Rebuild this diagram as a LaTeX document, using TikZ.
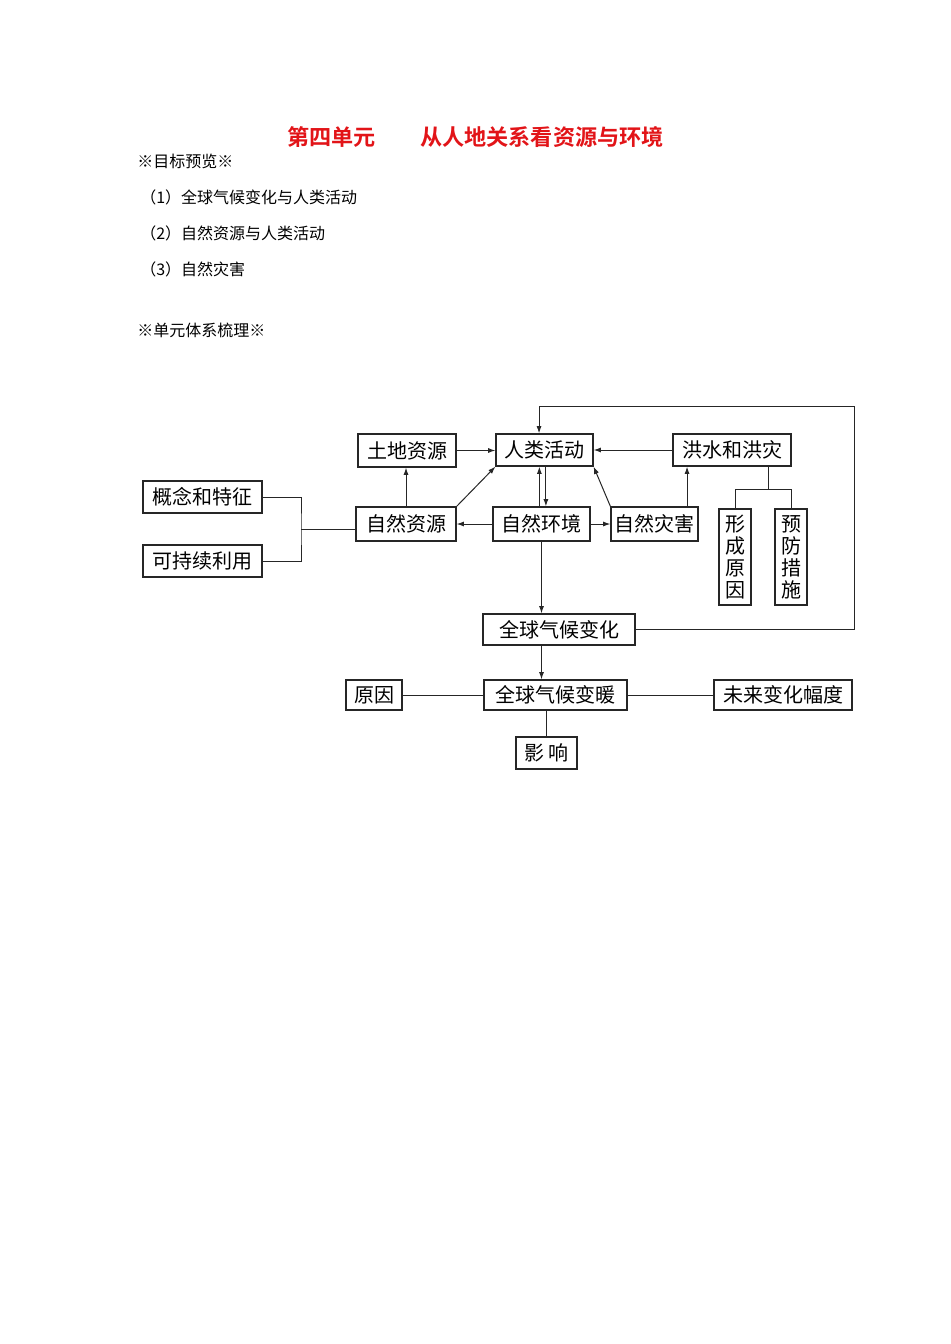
\documentclass[tikz,border=0pt]{standalone}
\usepackage{fontspec}
\setmainfont{Noto Sans CJK SC}[BoldFont={Noto Sans CJK SC Bold}]
\usepackage{xcolor}
\usepackage{tikz}
\usetikzlibrary{arrows.meta,positioning,calc}
\definecolor{titlered}{RGB}{226,20,24}

\begin{document}
\begin{tikzpicture}[
    x=0.75pt,y=-0.75pt,
    box/.style={draw=black!85, line width=0.9pt, inner sep=0pt, minimum height=24pt, font=\fontsize{15}{18}\selectfont, align=center},
    vbox/.style={box, minimum width=24pt, minimum height=72pt, font=\fontsize{15}{16.5}\selectfont},
    line/.style={draw=black!85, line width=0.75pt},
    arr/.style={line, -{Latex[length=5.5pt,width=3.8pt]}},
    txt/.style={anchor=west, inner sep=0pt, font=\fontsize{12}{14}\selectfont},
    head/.style={anchor=west, inner sep=0pt, text=titlered, font=\fontsize{16.6}{19}\selectfont\bfseries}
  ]
    \useasboundingbox (0,0) rectangle (950,1344);

    % heading and outline
    \node[head] (t1) at (287,137) {第四单元};
    \node[head] (t2) at (420,137) {从人地关系看资源与环境};
    \node[txt] (p0) at (137,161) {※目标预览※};
    \node[txt] (p1) at (140,197) {（1）全球气候变化与人类活动};
    \node[txt] (p2) at (140,233) {（2）自然资源与人类活动};
    \node[txt] (p3) at (140,269) {（3）自然灾害};
    \node[txt] (p4) at (137,330) {※单元体系梳理※};

    % boxes
    \node[box, minimum width=73.5pt, minimum height=24.75pt] (tudi) at (407,450.5) {土地资源};
    \node[box, minimum width=72.75pt] (renlei) at (544.5,450) {人类活动};
    \node[box, minimum width=88.5pt] (hongshui) at (732,450) {洪水和洪灾};
    \node[box, minimum width=89.25pt] (gainian) at (202.5,497) {概念和特征};
    \node[box, minimum width=89.25pt] (kechixu) at (202.5,561) {可持续利用};
    \node[box, minimum width=75pt, minimum height=25.5pt] (ziyuan) at (406,524) {自然资源};
    \node[box, minimum width=72.75pt, minimum height=25.5pt] (huanjing) at (541.5,524) {自然环境};
    \node[box, minimum width=65.25pt, minimum height=25.5pt] (zaihai) at (654.5,524) {自然灾害};
    \node[vbox] (chengyin) at (735,557) {形\\成\\原\\因};
    \node[vbox] (cuoshi) at (791,557) {预\\防\\措\\施};
    \node[box, minimum width=114pt, minimum height=23.25pt] (bianhua) at (559,629.5) {全球气候变化};
    \node[box, minimum width=107.25pt, minimum height=22.5pt] (biannuan) at (555.5,695) {全球气候变暖};
    \node[box, minimum width=42pt, minimum height=22.5pt] (yuanyin) at (374,695) {原因};
    \node[box, minimum width=103.5pt, minimum height=22.5pt] (fudu) at (783,695) {未来变化幅度};
    \node[box, minimum width=45.75pt] (yingxiang) at (546.5,753) {影\,响};

    % connectors
    \coordinate (gk) at (301,529);
    \draw[line] (gainian.east) -| (gk) |- (kechixu.east);
    \draw[line] (gk) -- (gk -| ziyuan.west);
    \draw[arr] (ziyuan.north) -- (ziyuan.north |- tudi.south);
    \draw[arr] (tudi.east) -- (tudi.east -| renlei.west);
    \draw[arr] (ziyuan.north east) -- (renlei.south west);
    \draw[arr] (huanjing.west) -- (ziyuan.east);
    \draw[arr] ([xshift=-1.6pt]huanjing.north) -- ([xshift=-1.6pt]huanjing.north |- renlei.south);
    \draw[arr] ([xshift=3.3pt]huanjing.north |- renlei.south) -- ([xshift=3.3pt]huanjing.north);
    \draw[arr] (hongshui.west) -- (renlei.east);
    \draw[arr] (zaihai.north west) -- (renlei.south east);
    \draw[arr] (huanjing.east) -- (zaihai.west);
    \draw[arr] ([xshift=24.4pt]zaihai.north) -- ([xshift=24.4pt]zaihai.north |- hongshui.south);

    \coordinate (fork) at (768.7,489.3);
    \draw[line] (fork |- hongshui.south) -- (fork);
    \draw[line] (chengyin.north) |- (fork) -| (cuoshi.north);

    \draw[arr] (huanjing.south) -- (huanjing.south |- bianhua.north);
    \coordinate (loop) at (854,406.7);
    \draw[arr] (bianhua.east) -| (loop) -| ([xshift=-4.1pt]renlei.north);
    \draw[arr] (huanjing.south |- bianhua.south) -- (huanjing.south |- biannuan.north);
    \draw[line] (yuanyin.east) -- (biannuan.west);
    \draw[line] (biannuan.east) -- (fudu.west);
    \draw[line] (yingxiang.north |- biannuan.south) -- (yingxiang.north);
\end{tikzpicture}
\end{document}
